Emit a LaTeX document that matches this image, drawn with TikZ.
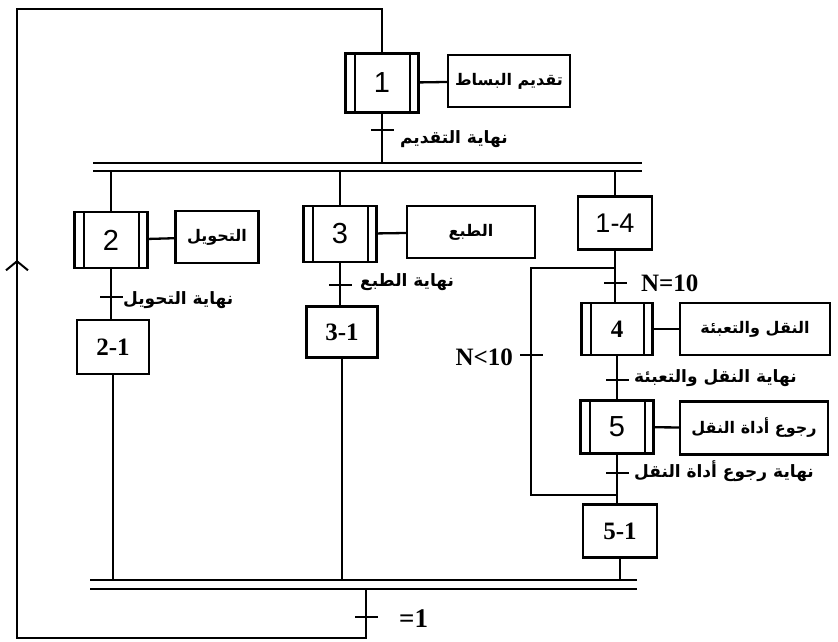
\documentclass[tikz,border=0pt]{standalone}
\usepackage{fontspec}
\setmainfont{Liberation Serif}
\newfontfamily\arabicfont[Script=Arabic]{DejaVu Sans}
\newfontfamily\numsans{Liberation Sans}
\TeXXeTstate=1
\usetikzlibrary{arrows.meta}
\newcommand{\artxt}[1]{{\arabicfont\bfseries\fontsize{17}{19}\selectfont\beginR #1\endR}}
\newcommand{\actxt}[1]{{\arabicfont\bfseries\fontsize{16}{18}\selectfont\beginR #1\endR}}
\newcommand{\snum}[1]{{\numsans\fontsize{29}{30}\selectfont #1}}
\newcommand{\bnum}[1]{{\bfseries\fontsize{25}{27}\selectfont #1}}
\begin{document}
\begin{tikzpicture}[x=1pt,y=-1pt, line width=2.3pt,
  stepbox/.style={draw, line width=2.3pt, inner sep=0pt, minimum width=73pt, minimum height=56pt},
  dstep/.style={stepbox, path picture={
     \draw[line width=2pt] ([xshift=9pt]path picture bounding box.north west) -- ([xshift=9pt]path picture bounding box.south west);
     \draw[line width=2pt] ([xshift=-9pt]path picture bounding box.north east) -- ([xshift=-9pt]path picture bounding box.south east);}},
  actbox/.style={draw, line width=2.3pt, inner sep=0pt, minimum height=52pt},
  trans/.style={fill=black, inner sep=0pt, minimum width=23pt, minimum height=2.6pt},
  lbl/.style={inner sep=0pt, anchor=west},
  bar/.style={line width=2.8pt}
]
\useasboundingbox (0,0) rectangle (838,642);

% steps
\node[dstep, minimum height=59pt] (s1) at (382,83) {\snum{1}};
\node[actbox, minimum width=122pt] (a1) at (509,81) {\actxt{تقديم البساط}};
\node[trans] (t1) at (382,130) {};
\node[lbl] at (399,139) {\artxt{نهاية التقديم}};

% top double bar
\coordinate (tbL) at (93,163);
\coordinate (tbR) at (642,163);
\coordinate (tbL2) at (93,171);
\coordinate (tbR2) at (642,171);
\draw[bar] (tbL) -- (tbR);
\draw[bar] (tbL2) -- (tbR2);

% bottom double bar
\coordinate (bbL) at (90,580);
\coordinate (bbR) at (637,580);
\coordinate (bbL2) at (90,589);
\coordinate (bbR2) at (637,589);
\draw[bar] (bbL) -- (bbR);
\draw[bar] (bbL2) -- (bbR2);

% branch 2
\node[dstep] (s2) at (111,240) {\snum{2}};
\node[actbox, minimum width=83pt] (a2) at (217,237) {\actxt{التحويل}};
\node[trans] (t2) at (111,297) {};
\node[lbl] at (122,300) {\artxt{نهاية التحويل}};
\node[stepbox, minimum width=72pt, minimum height=54pt] (s21) at (113,347) {\bnum{2-1}};

% branch 3
\node[dstep] (s3) at (340,234) {\snum{3}};
\node[actbox, minimum width=128pt] (a3) at (471,232) {\actxt{الطبع}};
\node[trans] (t3) at (340,285) {};
\node[lbl] at (359,282) {\artxt{نهاية الطبع}};
\node[stepbox, minimum width=71pt, minimum height=51pt] (s31) at (342,332) {\bnum{3-1}};

% branch 4
\node[stepbox, minimum width=74pt, minimum height=53pt] (s14) at (615,223) {{\numsans\fontsize{27}{28}\selectfont 1-4}};
\coordinate (j1) at (615,268);
\node[trans] (t4a) at (615,283) {};
\node[lbl] at (640,283) {\bnum{N=10}};
\node[dstep, minimum width=71pt, minimum height=52pt] (s4) at (617,329) {\bnum{4}};
\node[actbox, minimum width=150pt] (a4) at (755,329) {\actxt{النقل والتعبئة}};
\node[trans] (t4b) at (617,380) {};
\node[lbl] at (633,378) {\artxt{نهاية النقل والتعبئة}};
\node[dstep, minimum width=73pt, minimum height=53pt] (s5) at (617,427) {\snum{5}};
\node[actbox, minimum width=148pt, minimum height=53pt] (a5) at (754,428) {\actxt{رجوع أداة النقل}};
\node[trans] (t5) at (617,473) {};
\node[lbl] at (633,471) {\artxt{نهاية رجوع أداة النقل}};
\coordinate (j2) at (617,495);
\node[stepbox, minimum width=74pt, minimum height=53pt] (s51) at (620,531) {\bnum{5-1}};

% loop N<10
\coordinate (lp1) at (531,495);
\coordinate (lp2) at (531,268);
\node[trans] (tN) at (531,355) {};
\node[inner sep=0pt, anchor=east] at (514,357) {\bnum{N<10}};

% final transition and return
\node[trans] (tE) at (366,617) {};
\node[inner sep=0pt, anchor=west] at (398,619) {{\bfseries\fontsize{27}{28}\selectfont\beginL =1\endL}};
\coordinate (r1) at (366,638);
\coordinate (r2) at (17,638);
\coordinate (r3) at (17,9);
\coordinate (r4) at (382,9);

% connectors
\draw (s1) -- (a1);
\draw (s2) -- (a2);
\draw (s3) -- (a3);
\draw (s4) -- (a4);
\draw (s5) -- (a5);
\draw (s1.south) -- (s1.south |- tbL);
\draw (tbL2 -| s2.north) -- (s2.north);
\draw (s2.south) -- (s21.north -| s2.south);
\draw (s21.south) -- (s21.south |- bbL);
\draw (tbL2 -| s3.north) -- (s3.north);
\draw (s3.south) -- (s31.north -| s3.south);
\draw (s31.south) -- (s31.south |- bbL);
\draw (tbL2 -| s14.north) -- (s14.north);
\draw (s14.south) -- (j1) -- (s4.north -| j1);
\draw (s4.south) -- (s5.north);
\draw (s5.south) -- (j2) -- (s51.north -| j2);
\draw (s51.south) -- (s51.south |- bbL);
\draw (j2) -- (lp1) -- (lp2) -- (j1);
\draw (bbL2 -| tE) -- (r1) -- (r2) -- (r3) -- (r4) -- (s1.north);
\draw[line width=2pt, -{Straight Barb[length=9pt,width=22pt,line width=2pt]}] (17,300) -- (17,260);
\end{tikzpicture}
\end{document}
